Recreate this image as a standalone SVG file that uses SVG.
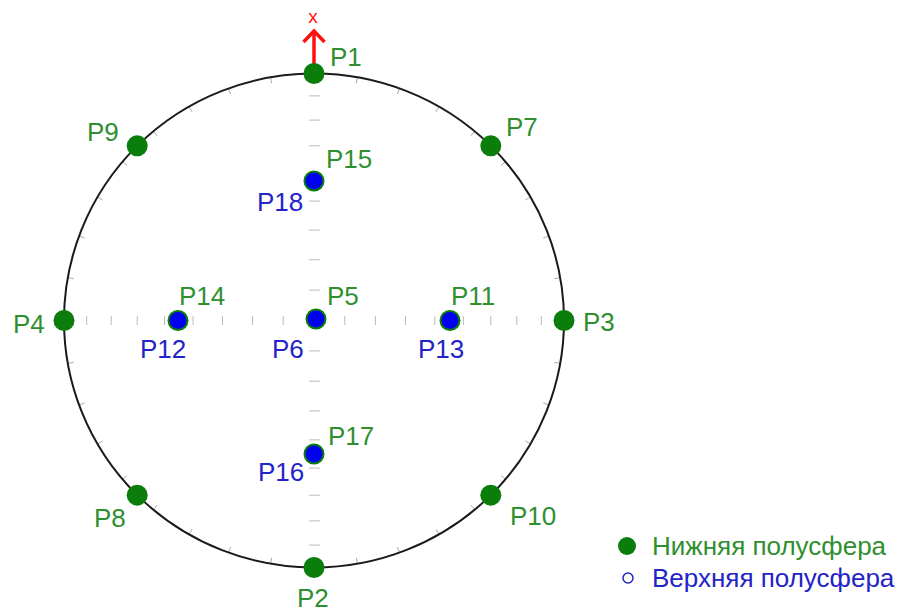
<svg xmlns="http://www.w3.org/2000/svg" xmlns:xlink="http://www.w3.org/1999/xlink" width="907" height="615" viewBox="0 0 907 615">
<style>
text{font-family:"Liberation Sans",Arial,sans-serif;font-size:26px}
.g{fill:#2f8f2f}
.b{fill:#2323c8}
.gd{fill:#0a7d0a}
.bd{fill:#0000f0}
.tk{stroke:#bbbbbb;stroke-width:1}
.pt{stroke:#aaaaaa;stroke-width:1}
</style>
<defs>
<g id="q">
<line class="pt" x1="357.4" y1="77.3" x2="356.4" y2="83.2"/>
<line class="pt" x1="399.5" y1="88.4" x2="397.4" y2="94"/>
<line class="pt" x1="439" y1="106.6" x2="436" y2="111.8"/>
<line class="pt" x1="474.7" y1="131.3" x2="470.8" y2="135.9"/>
<line class="pt" x1="505.5" y1="161.7" x2="500.9" y2="165.6"/>
<line class="pt" x1="530.5" y1="197" x2="525.3" y2="200"/>
<line class="pt" x1="548.9" y1="236" x2="543.3" y2="238.1"/>
<line class="pt" x1="560.2" y1="277.6" x2="554.3" y2="278.7"/>
</g>
<g id="hx">
<line class="tk" x1="344.8" y1="316" x2="344.8" y2="325"/>
<line class="tk" x1="375.4" y1="316" x2="375.4" y2="325"/>
<line class="tk" x1="405.5" y1="316" x2="405.5" y2="325"/>
<line class="tk" x1="434.9" y1="316" x2="434.9" y2="325"/>
<line class="tk" x1="463.4" y1="316" x2="463.4" y2="325"/>
<line class="tk" x1="490.8" y1="316" x2="490.8" y2="325"/>
<line class="tk" x1="516.8" y1="316" x2="516.8" y2="325"/>
<line class="tk" x1="541.3" y1="316" x2="541.3" y2="325"/>
</g>
<g id="vy">
<line class="tk" x1="309" y1="290.1" x2="320" y2="290.1"/>
<line class="tk" x1="309" y1="259.8" x2="320" y2="259.8"/>
<line class="tk" x1="309" y1="230.1" x2="320" y2="230.1"/>
<line class="tk" x1="309" y1="201.1" x2="320" y2="201.1"/>
<line class="tk" x1="309" y1="172.9" x2="320" y2="172.9"/>
<line class="tk" x1="309" y1="145.8" x2="320" y2="145.8"/>
<line class="tk" x1="309" y1="120.1" x2="320" y2="120.1"/>
<line class="tk" x1="309" y1="95.9" x2="320" y2="95.9"/>
</g>
</defs>
<rect width="907" height="615" fill="#fff"/>
<g id="connectors">
<use xlink:href="#hx"/>
<use xlink:href="#hx" transform="translate(628,0) scale(-1,1)"/>
<use xlink:href="#vy"/>
<use xlink:href="#vy" transform="translate(0,641) scale(1,-1)"/>
<use xlink:href="#q"/>
<use xlink:href="#q" transform="translate(628,0) scale(-1,1)"/>
<use xlink:href="#q" transform="translate(0,641) scale(1,-1)"/>
<use xlink:href="#q" transform="translate(628,641) scale(-1,-1)"/>
<ellipse cx="314" cy="320.5" rx="250" ry="247" fill="none" stroke="#1a1a1a" stroke-width="2"/>
<line x1="314" y1="66" x2="314" y2="31" stroke="#ff1010" stroke-width="3.5"/>
<polyline points="303.5,42 314,31 324.5,42" fill="none" stroke="#ff1010" stroke-width="3.5"/>
<text x="313" y="23" text-anchor="middle" style="font-size:19px" fill="#ff1010">x</text>
</g>
<g id="P1"><circle class="gd" cx="314" cy="73.5" r="10.5"/><text class="g" x="330" y="66">P1</text></g>
<g id="P2"><circle class="gd" cx="314" cy="567.5" r="10.5"/><text class="g" x="297" y="607">P2</text></g>
<g id="P3"><circle class="gd" cx="564" cy="320.5" r="10.5"/><text class="g" x="583" y="331">P3</text></g>
<g id="P4"><circle class="gd" cx="64" cy="320.5" r="10.5"/><text class="g" x="13" y="333">P4</text></g>
<g id="P7"><circle class="gd" cx="490.8" cy="145.8" r="10.5"/><text class="g" x="506" y="136">P7</text></g>
<g id="P9"><circle class="gd" cx="137.2" cy="145.8" r="10.5"/><text class="g" x="87" y="141">P9</text></g>
<g id="P8"><circle class="gd" cx="137.2" cy="495.2" r="10.5"/><text class="g" x="94" y="527">P8</text></g>
<g id="P10"><circle class="gd" cx="490.8" cy="495.2" r="10.5"/><text class="g" x="510" y="525">P10</text></g>
<g id="P15"><circle class="gd" cx="314" cy="181" r="10.5"/><text class="g" x="326" y="168">P15</text></g>
<g id="P18"><circle class="bd" cx="314" cy="181" r="8.5"/><text class="b" x="257" y="211">P18</text></g>
<g id="P14"><circle class="gd" cx="178" cy="320.5" r="10.5"/><text class="g" x="179" y="305">P14</text></g>
<g id="P12"><circle class="bd" cx="178" cy="320.5" r="8.5"/><text class="b" x="140" y="358">P12</text></g>
<g id="P5"><circle class="gd" cx="316" cy="319" r="10.5"/><text class="g" x="327" y="305">P5</text></g>
<g id="P6"><circle class="bd" cx="316" cy="319" r="8.5"/><text class="b" x="272" y="358">P6</text></g>
<g id="P11"><circle class="gd" cx="450" cy="320.5" r="10.5"/><text class="g" x="451" y="305">P11</text></g>
<g id="P13"><circle class="bd" cx="450" cy="320.5" r="8.5"/><text class="b" x="418" y="358">P13</text></g>
<g id="P17"><circle class="gd" cx="314" cy="454" r="10.5"/><text class="g" x="328" y="445">P17</text></g>
<g id="P16"><circle class="bd" cx="314" cy="454" r="8.5"/><text class="b" x="258" y="481">P16</text></g>
<g id="legend">
<circle class="gd" cx="627" cy="546" r="9"/>
<text class="g" x="652" y="555">Нижняя полусфера</text>
<circle cx="628" cy="578" r="5" fill="none" stroke="#2323c8" stroke-width="1.5"/>
<text class="b" x="652" y="587">Верхняя полусфера</text>
</g>
</svg>
